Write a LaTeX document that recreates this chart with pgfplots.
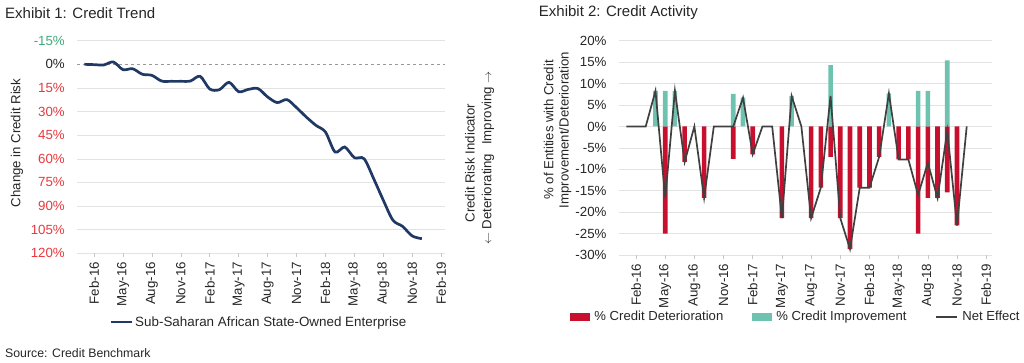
\documentclass[border=0pt]{standalone}
\usepackage{pgfplots}
\pgfplotsset{compat=1.18}
\usepackage{fontspec}
\setmainfont{Liberation Sans}
\definecolor{navy}{HTML}{1F3864}
\definecolor{detred}{HTML}{C8102E}
\definecolor{impteal}{HTML}{6DC3B0}
\definecolor{netgray}{HTML}{404040}
\definecolor{gridgray}{HTML}{E3E3E3}
\definecolor{tickgray}{HTML}{C8C8C8}
\definecolor{txt}{HTML}{262626}
\definecolor{lblred}{HTML}{E8383D}
\definecolor{lblgreen}{HTML}{3DAA78}

\pgfplotstableread{
m val
0 0
1 0.2
2 0.4
3 -1.5
4 3.4
5 2.8
6 6.3
7 7.0
8 10.6
9 10.8
10 10.8
11 10.6
12 7.6
13 15.7
14 16.1
15 11.4
16 17.4
17 15.9
18 15.4
19 20.7
20 24.3
21 22.4
22 27.5
23 33.4
24 38.7
25 43.0
26 55.7
27 52.5
28 59.3
29 59.9
30 72.6
31 86.3
32 99.0
33 102.9
34 109.0
35 110.7
}\trendtable

\pgfplotstableread{
m val
4 -25
6 -8.3
8 -16.7
11 -7.6
13 -6.5
16 -21.4
19 -21.4
20 -14.3
21 -7.1
22 -21.4
23 -28.6
24 -14.3
25 -14.3
26 -7.1
28 -7.7
29 -7.7
30 -25
31 -16.7
32 -16.7
33 -15.4
34 -23.1
}\dettable

\pgfplotstableread{
m val
3 8.3
4 8.3
5 8.3
11 7.6
12 6.7
17 7.1
21 14.3
27 7.7
30 8.3
31 8.3
33 15.4
}\imptable

\pgfplotstableread{
m val
0 0
1 0
2 0
3 8.3
4 -16.7
5 8.3
6 -8.3
7 0
8 -16.7
9 0
10 0
11 0
12 6.7
13 -6.5
14 0
15 0
16 -21.4
17 7.1
18 0
19 -21.4
20 -14.3
21 7.1
22 -21.4
23 -28.6
24 -14.3
25 -14.3
26 -7.1
27 7.7
28 -7.7
29 -7.7
30 -16
31 -8.5
32 -16.7
33 -1
34 -23.1
35 0
}\nettable

\begin{document}
\begin{tikzpicture}
\path[use as bounding box] (0pt,0pt) rectangle (1024pt,362pt);
\pgfplotsset{
  cb/.style={
    scale only axis,
    axis line style={draw=none},
    ymajorgrids,
    grid style={gridgray, line width=0.6pt},
    xtick={1,4,...,37},
    xticklabels={Feb-16,May-16,Aug-16,Nov-16,Feb-17,May-17,Aug-17,Nov-17,Feb-18,May-18,Aug-18,Nov-18,Feb-19},
    x tick label style={rotate=90, anchor=east, inner sep=0pt, font=\fontsize{13.3}{15}\selectfont, text=txt},
    xticklabel shift=4.5pt,
    y tick label style={anchor=east, inner sep=0pt, xshift=-8pt, font=\fontsize{13.3}{15}\selectfont, text=txt},
    xtick style={draw=tickgray, line width=0.6pt},
    ytick style={draw=none},
    tick align=outside,
    major tick length=4pt,
  }
}
% ---------- Left chart ----------
\begin{axis}[cb,
  at={(77pt,108.7pt)}, anchor=south west,
  width=368pt, height=212.6pt,
  xmin=-0.77, xmax=37.4, ymin=-15, ymax=120, y dir=reverse,
  xtick pos=lower, xticklabel pos=lower,
  ytick={-15,15,30,45,60,75,90,105,120},
  yticklabels={{\color{lblgreen}-15\%},{\color{lblred}15\%},{\color{lblred}30\%},{\color{lblred}45\%},{\color{lblred}60\%},{\color{lblred}75\%},{\color{lblred}90\%},{\color{lblred}105\%},{\color{lblred}120\%}},
  extra y ticks={0}, extra y tick labels={0\%},
  extra y tick style={grid style={dashed, gray!80, line width=0.6pt}},
  legend style={at={(axis cs:18.1,163.6)}, anchor=center, draw=none, fill=none,
    font=\fontsize{13.4}{15}\selectfont, text=txt, inner sep=0pt},
]
\addplot[navy, line width=2.7pt, smooth, tension=0.5,
  legend image code/.code={\draw[navy, line width=2.7pt] (0pt,0pt) -- (21pt,0pt);}]
  table[x=m, y=val] {\trendtable};
\legend{Sub-Saharan African State-Owned Enterprise}
\end{axis}

% ---------- Right chart ----------
\begin{axis}[cb,
  at={(618.7pt,107pt)}, anchor=south west,
  width=373.3pt, height=214.3pt,
  xmin=-0.78, xmax=37.6, ymin=-30, ymax=20,
  xtick pos=lower, xticklabel pos=lower,
  ytick={-30,-25,...,20},
  yticklabels={-30\%,-25\%,-20\%,-15\%,-10\%,-5\%,0\%,5\%,10\%,15\%,20\%},
  legend columns=3,
  legend style={at={(0.475,-0.288)}, anchor=center, draw=none, fill=none,
    font=\fontsize{13.1}{15}\selectfont, text=txt, inner sep=0pt,
    /tikz/every even column/.append style={column sep=27pt},
    /tikz/every odd column/.append style={column sep=2pt}},
]
\addplot[ybar, bar width=4.6pt, bar shift=0pt, fill=detred, draw=none,
  legend image code/.code={\fill[detred] (0pt,-4pt) rectangle (20pt,4pt);}]
  table[x=m, y=val] {\dettable};
\addplot[ybar, bar width=4.6pt, bar shift=0pt, fill=impteal, draw=none,
  legend image code/.code={\fill[impteal] (0pt,-4pt) rectangle (20pt,4pt);}]
  table[x=m, y=val] {\imptable};
\addplot[netgray, line width=1.7pt,
  legend image code/.code={\draw[netgray, line width=1.7pt] (0pt,0pt) -- (21pt,0pt);}]
  table[x=m, y=val] {\nettable};
\legend{\% Credit Deterioration, \% Credit Improvement, Net Effect}
\end{axis}

% ---------- Titles and labels ----------
\node[anchor=west, inner sep=0pt, text=txt, font=\fontsize{15}{18}\selectfont] at (5pt,349pt) {Exhibit 1: Credit Trend};
\node[anchor=west, inner sep=0pt, text=txt, font=\fontsize{15}{18}\selectfont] at (538.7pt,349pt) {Exhibit 2: Credit Activity};
\node[rotate=90, inner sep=0pt, text=txt, font=\fontsize{13.2}{15}\selectfont] at (17pt,219pt) {Change in Credit Risk};
\node[rotate=90, inner sep=0pt, text=txt, font=\fontsize{13.2}{15}\selectfont] at (470pt,199pt) {Credit Risk Indicator};
\node[rotate=90, inner sep=0pt, text=txt, font=\fontsize{13.2}{15}\selectfont] at (488pt,204pt) {$\leftarrow$ Deteriorating\hspace{9pt}Improving $\rightarrow$};
\node[rotate=90, inner sep=0pt, text=txt, font=\fontsize{13.2}{15}\selectfont] at (548.7pt,232pt) {\% of Entities with Credit};
\node[rotate=90, inner sep=0pt, text=txt, font=\fontsize{13.2}{15}\selectfont] at (565.3pt,232pt) {Improvement/Deterioration};
\node[anchor=west, inner sep=0pt, text=txt, font=\fontsize{12.3}{14}\selectfont] at (5pt,9pt) {Source: Credit Benchmark};
\end{tikzpicture}
\end{document}
